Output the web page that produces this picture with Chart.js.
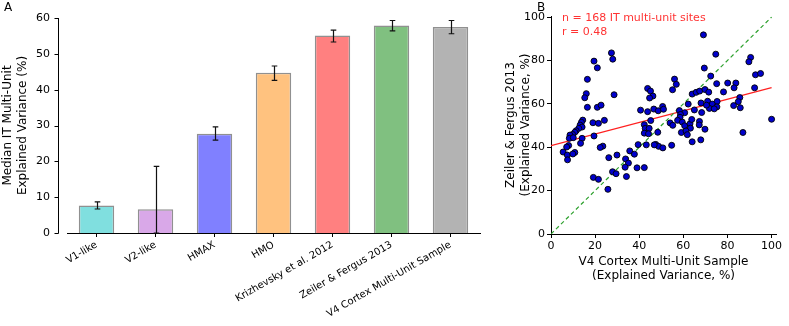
<!DOCTYPE html>
<html>
<head>
<meta charset="utf-8">
<script src="https://cdn.jsdelivr.net/npm/chart.js@4/dist/chart.umd.min.js"></script>
<style>
  body { margin: 0; background: #fff; }
  #wrap { position: relative; width: 789px; height: 326px; overflow: hidden; }
  canvas { position: absolute; top: 0; }
  #chartA { left: 0; }
  #chartB { left: 490px; }
  .label { position: absolute; font-family: "DejaVu Sans"; white-space: nowrap; }
</style>
</head>
<body>
<div id="wrap">
  <canvas id="chartA" width="490" height="326"></canvas>
  <canvas id="chartB" width="299" height="326"></canvas>
  <div class="label" style="left:4px;top:0px;font-size:12px">A</div>
  <div class="label" style="left:537px;top:0px;font-size:12px">B</div>
  <div class="label" style="left:562px;top:11px;font-size:11px;color:#ff3333;line-height:14px">n = 168 IT multi-unit sites<br>r = 0.48</div>
</div>
<script>
// panel A data
const models = ["V1-like", "V2-like", "HMAX", "HMO", "Krizhevsky et al. 2012", "Zeiler & Fergus 2013", "V4 Cortex Multi-Unit Sample"];
const medianEV = [7.7, 6.6, 27.7, 44.7, 55.1, 57.9, 57.5];
const errLow = [6.7, 0, 25.9, 42.6, 53.3, 56.4, 55.6];
const errHigh = [8.7, 18.6, 29.6, 46.6, 56.6, 59.3, 59.3];
const barColors = ["#80dfdf", "#d9a8e8", "#8080ff", "#ffc27f", "#ff8080", "#80c080", "#b3b3b3"];
const yTicksA = [0, 10, 20, 30, 40, 50, 60];

// panel B data (V4 sample vs Zeiler & Fergus, explained variance %)
const v4EV = [
  27.4, 28, 19.5, 21, 16.5, 16, 15.3, 28.6, 69.1, 74.7, 90.5, 89.7, 69.5, 72.4, 92.7, 95, 56, 56.8, 55.1, 75.1,
  80.1, 83.8, 83, 92.3, 43.8, 45.1, 46.2, 44.7, 64, 65.8, 67.4, 69.8, 71.5, 78.2, 85.6, 84.9,
  16.5, 21, 22.7, 40.6, 43.8, 46.6, 48.6, 50.6, 51, 58.2, 60.6, 58.7, 58.5, 62.2, 65, 68.3, 68, 71, 75.3, 73.1,
  71.8, 75.2, 74, 70.5, 82.8, 85.8,
  54, 55.2, 57.4, 59.5, 60.6, 63, 63.8, 63.2, 67.3, 67.2, 69.8, 100, 14.4, 13.8, 19, 21.5, 24.2, 45.2, 42.3, 13.2,
  14.1, 12.6, 11.4, 10.8, 9.8, 8.6, 8.3, 10.1, 14.1, 19.5, 42.7, 44.5, 42.3, 44.2, 48.4, 59.1, 61.2, 61.8, 87,
  64, 67.9, 47.5, 48.8, 46.8, 50.7, 54.7, 43.2, 39.5, 5.5, 7.4, 10.8, 9.9, 7.5, 8, 7.1, 13.4, 23.5, 22.3, 26.2,
  29.9, 35.7, 37.8, 33.8, 35.1, 33.6, 39, 42.3, 27.9, 29.5, 19.2, 21.5, 25.8, 34.2
];
const zfEV = [
  83.5, 80.6, 79.7, 76.6, 71.3, 64.7, 62.8, 64.2, 91.8, 82.9, 81.4, 79.4, 76.5, 72.8, 73.4, 74, 71.4, 69, 66.5, 69.3,
  69.6, 69.6, 67.4, 67.4, 67.1, 65.9, 63.6, 62.7, 64.5, 65.3, 65.9, 66.6, 65.4, 65.5, 62.9, 61,
  58.4, 58.4, 59.4, 57.1, 56.4, 57.6, 56.8, 58.8, 57.5, 56.9, 55.9, 55.1, 53.8, 59.9, 57.2, 56, 60.4, 61.2, 61.1, 59.9,
  57.9, 58.6, 57.7, 59.4, 59.2, 58.2,
  51.2, 50.1, 52.4, 51.6, 49.9, 50.8, 52.8, 48.8, 51.9, 50.3, 48.3, 52.9, 52.5, 51.5, 51.3, 51, 52.4, 52.3, 50.4, 50.2,
  49.3, 48.7, 47.6, 46.9, 45.9, 45.6, 44.1, 44.4, 44.1, 45.2, 48.7, 48.7, 46.5, 46.2, 46.9, 46.8, 47.5, 45.8, 46.8,
  42.5, 43.4, 41.3, 40.4, 41.1, 39.7, 40.9, 41.1, 41.2, 37.8, 36.4, 37.6, 36.9, 34.2, 40.8, 40.1, 41.8, 40.5, 39.9, 35.2,
  36.4, 38.3, 36.8, 34.6, 32.7, 30.8, 30.5, 30.6, 28.7, 27.8, 26.1, 25.2, 20.6, 26.5
];
const fitX = [0, 100];
const fitY = [40.7, 67.5];
const unityLine = [0, 100];
const ticksB = [0, 20, 40, 60, 80, 100];

Chart.defaults.font.family = "DejaVu Sans";
Chart.defaults.color = "#000";
Chart.defaults.animation = false;
Chart.defaults.plugins.legend.display = false;
Chart.defaults.plugins.tooltip.enabled = false;

// error bars on top of the bars
const errorBars = {
  id: "errorBars",
  afterDatasetsDraw(chart) {
    const { ctx, scales: { x, y } } = chart;
    ctx.save();
    ctx.strokeStyle = "#111";
    ctx.lineWidth = 1.2;
    models.forEach((m, i) => {
      const px = Math.round(x.getPixelForValue(i)) + 0.5;
      const top = y.getPixelForValue(errHigh[i]);
      const bot = y.getPixelForValue(errLow[i]);
      ctx.beginPath();
      ctx.moveTo(px, top);
      ctx.lineTo(px, bot);
      ctx.moveTo(px - 2.8, top);
      ctx.lineTo(px + 2.8, top);
      ctx.moveTo(px - 2.8, bot);
      ctx.lineTo(px + 2.8, bot);
      ctx.stroke();
    });
    ctx.restore();
  },
};

// y spine of panel A sits a bit left of the bars
const offsetSpine = {
  id: "offsetSpine",
  afterDraw(chart) {
    const { ctx, chartArea, scales: { y } } = chart;
    const sx = Math.round(chartArea.left - 9.5) + 0.5;
    ctx.save();
    ctx.strokeStyle = "#000";
    ctx.lineWidth = 1;
    ctx.beginPath();
    ctx.moveTo(sx, y.getPixelForValue(0) + 0.5);
    ctx.lineTo(sx, y.getPixelForValue(60));
    yTicksA.forEach((v) => {
      const py = Math.round(y.getPixelForValue(v)) + 0.5;
      ctx.moveTo(sx - 4, py);
      ctx.lineTo(sx, py);
    });
    ctx.stroke();
    ctx.restore();
  },
};

new Chart(document.getElementById("chartA"), {
  type: "bar",
  data: {
    labels: models,
    datasets: [
      {
        data: medianEV,
        backgroundColor: barColors,
        borderColor: "rgba(70,70,70,0.6)",
        borderWidth: 1.5,
        barPercentage: 0.6,
        categoryPercentage: 1,
      },
    ],
  },
  options: {
    responsive: false,
    layout: { padding: { top: 18, right: 10 } },
    scales: {
      x: {
        offset: true,
        grid: { drawOnChartArea: false, offset: false, tickLength: 4, color: "#000" },
        border: { color: "#000" },
        ticks: { autoSkip: false, minRotation: 30, maxRotation: 30, font: { size: 10 }, padding: 2 },
        afterFit: (s) => { s.height = 93; },
      },
      y: {
        min: 0,
        max: 60,
        ticks: { stepSize: 10, font: { size: 11 }, padding: 5 },
        grid: { display: false, tickLength: 12 },
        border: { display: false },
        title: {
          display: true,
          text: ["Median IT Multi-Unit", "Explained Variance (%)"],
          font: { size: 12 },
          padding: { top: 1, bottom: 0 },
        },
        afterFit: (s) => { s.width = 67; },
      },
    },
  },
  plugins: [errorBars, offsetSpine],
});

new Chart(document.getElementById("chartB"), {
  type: "scatter",
  data: {
    datasets: [
      {
        data: v4EV.map((v, i) => ({ x: v, y: zfEV[i] })),
        backgroundColor: "#0000cc",
        borderColor: "#000",
        borderWidth: 0.9,
        pointRadius: 3,
        order: 0,
      },
      {
        data: unityLine.map((v) => ({ x: v, y: v })),
        showLine: true,
        borderColor: "#2ca02c",
        borderDash: [4, 3],
        borderWidth: 1.2,
        pointRadius: 0,
        order: 1,
      },
      {
        data: fitX.map((v, i) => ({ x: v, y: fitY[i] })),
        showLine: true,
        borderColor: "#ff2020",
        borderWidth: 1.2,
        pointRadius: 0,
        order: 1,
      },
    ],
  },
  options: {
    responsive: false,
    layout: { padding: { top: 16, right: 13 } },
    scales: {
      x: {
        type: "linear",
        min: 0,
        max: 102,
        afterBuildTicks: (s) => { s.ticks = ticksB.map((v) => ({ value: v })); },
        ticks: { font: { size: 11 }, padding: 2 },
        grid: { drawOnChartArea: false, tickLength: 4, color: "#000" },
        border: { color: "#000" },
        title: {
          display: true,
          text: ["V4 Cortex Multi-Unit Sample", "(Explained Variance, %)"],
          font: { size: 12 },
          padding: { top: 0, bottom: 43 },
        },
        afterFit: (s) => { s.height = 92; },
      },
      y: {
        min: 0,
        max: 100.5,
        afterBuildTicks: (s) => { s.ticks = ticksB.map((v) => ({ value: v })); },
        ticks: { font: { size: 11 }, padding: 2 },
        grid: { drawOnChartArea: false, tickLength: 4, color: "#000" },
        border: { color: "#000" },
        title: {
          display: true,
          text: ["Zeiler & Fergus 2013", "(Explained Variance, %)"],
          font: { size: 12 },
          padding: { top: 14, bottom: 0 },
        },
        afterFit: (s) => { s.width = 61; },
      },
    },
  },
});
</script>
</body>
</html>
